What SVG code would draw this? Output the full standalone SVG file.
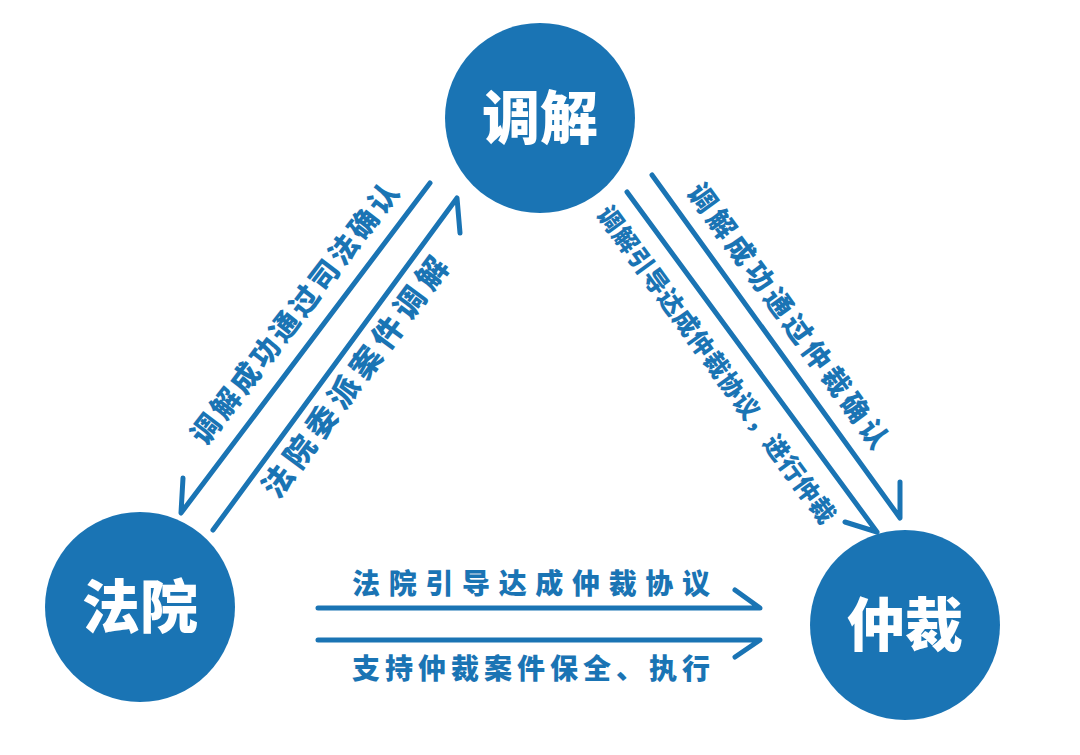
<svg xmlns="http://www.w3.org/2000/svg" width="1080" height="755" viewBox="0 0 1080 755">
<style>
.n{fill:#1a74b4}
.nt{fill:#fff;font-family:"Noto Sans CJK SC",sans-serif;font-weight:900;font-size:58px;text-anchor:middle}
.c{stroke:#1a74b4;stroke-width:5;fill:none;stroke-linecap:round;stroke-linejoin:round}
.l{fill:#1a74b4;font-family:"Noto Sans CJK SC",sans-serif;font-weight:900;text-anchor:middle}
</style>
<rect width="1080" height="755" fill="#fff"/>
<g id="mediation"><circle class="n" cx="540" cy="118" r="95"/><text class="nt" x="540" y="139">调解</text></g>
<g id="court"><circle class="n" cx="140" cy="607" r="95"/><text class="nt" x="140" y="628">法院</text></g>
<g id="arbitration"><circle class="n" cx="905" cy="625" r="95"/><text class="nt" x="905" y="646">仲裁</text></g>
<g id="connectors">
<path class="c" d="M430 183 L181 513 L183 478"/>
<path class="c" d="M213 530 L457 198 L460 233"/>
<path class="c" d="M652 175 L900 518 L900 482"/>
<path class="c" d="M627 192 L877 532 L845 522"/>
<path class="c" d="M318 608 L760 608 L735 590"/>
<path class="c" d="M318 640 L760 640 L735 657"/>
</g>
<g id="labels">
<text class="l" font-size="29" transform="translate(303,320) rotate(-52.5)" textLength="320" lengthAdjust="spacing">调解成功通过司法确认</text>
<text class="l" font-size="31" transform="translate(364,384) rotate(-53.5)" textLength="290" lengthAdjust="spacing">法院委派案件调解</text>
<text class="l" font-size="28" transform="translate(780,322) rotate(54)" textLength="320" lengthAdjust="spacing">调解成功通过仲裁确认</text>
<text class="l" font-size="25" transform="translate(709,370) rotate(54)" textLength="385" lengthAdjust="spacing">调解引导达成仲裁协议，进行仲裁</text>
<text class="l" font-size="28" x="531" y="594" textLength="358" lengthAdjust="spacing">法院引导达成仲裁协议</text>
<text class="l" font-size="28" x="531" y="679" textLength="358" lengthAdjust="spacing">支持仲裁案件保全、执行</text>
</g>
</svg>
